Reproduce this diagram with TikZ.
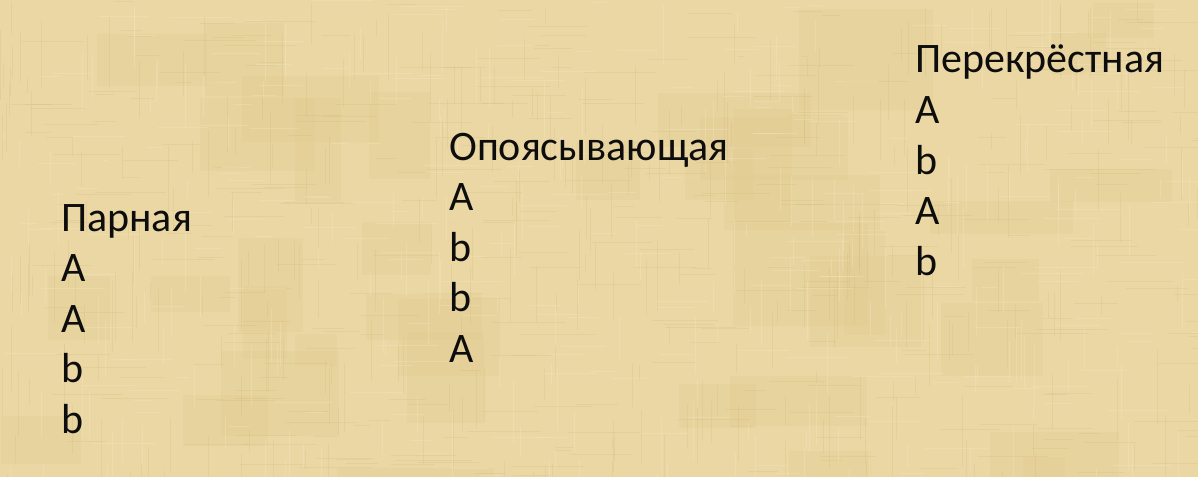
\documentclass[tikz,border=0pt]{standalone}
\usepackage{fontspec}
\setmainfont{Carlito}
\definecolor{papyrus}{RGB}{234,215,163}
\definecolor{fibdark}{RGB}{208,184,125}
\definecolor{fiblight}{RGB}{244,230,192}
\definecolor{patch}{RGB}{225,203,146}
\begin{document}
\begin{tikzpicture}[x=1pt,y=-1pt,
  lbl/.style={anchor=base west,inner sep=0pt,font=\fontsize{42}{50}\selectfont,text=black!95}]
\useasboundingbox (0,0) rectangle (1198,476);
\fill[papyrus] (-6,-6) rectangle (1204,482);
\pgfmathsetseed{11}
\begin{scope}
\clip (-6,-6) rectangle (1204,482);
\foreach \k in {1,...,40}{
  \pgfmathsetmacro\px{rnd*1198}\pgfmathsetmacro\py{rnd*476}
  \pgfmathsetmacro\pw{40+rnd*120}\pgfmathsetmacro\ph{30+rnd*90}
  \fill[patch,opacity=0.3] (\px,\py) rectangle ++(\pw,\ph);}
\foreach \k in {1,...,300}{
  \pgfmathsetmacro\px{rnd*1198}\pgfmathsetmacro\py{rnd*476}\pgfmathsetmacro\pl{15+rnd*60}
  \draw[fibdark,opacity=0.25,line width=1pt] (\px,\py) -- ++(0,\pl);}
\foreach \k in {1,...,300}{
  \pgfmathsetmacro\px{rnd*1198}\pgfmathsetmacro\py{rnd*476}\pgfmathsetmacro\pl{15+rnd*60}
  \draw[fibdark,opacity=0.25,line width=1pt] (\px,\py) -- ++(\pl,0);}
\foreach \k in {1,...,220}{
  \pgfmathsetmacro\px{rnd*1198}\pgfmathsetmacro\py{rnd*476}\pgfmathsetmacro\pl{15+rnd*50}
  \draw[fiblight,opacity=0.35,line width=1pt] (\px,\py) -- ++(0,\pl);}
\foreach \k in {1,...,220}{
  \pgfmathsetmacro\px{rnd*1198}\pgfmathsetmacro\py{rnd*476}\pgfmathsetmacro\pl{15+rnd*50}
  \draw[fiblight,opacity=0.35,line width=1pt] (\px,\py) -- ++(\pl,0);}
\end{scope}
% column 1
\node[lbl] (p0) at (61,231) {Парная};
\node[lbl] (p1) at (61,281.5) {A};
\node[lbl] (p2) at (61,332) {A};
\node[lbl] (p3) at (61,382.5) {b};
\node[lbl] (p4) at (61,433) {b};
% column 2
\node[lbl] (o0) at (449,160) {Опоясывающая};
\node[lbl] (o1) at (449,210.5) {A};
\node[lbl] (o2) at (449,261) {b};
\node[lbl] (o3) at (449,311.5) {b};
\node[lbl] (o4) at (449,362) {A};
% column 3
\node[lbl] (c0) at (915,73) {Перекрёстная};
\node[lbl] (c1) at (915,123.5) {A};
\node[lbl] (c2) at (915,174) {b};
\node[lbl] (c3) at (915,224.5) {A};
\node[lbl] (c4) at (915,275) {b};
\end{tikzpicture}
\end{document}
